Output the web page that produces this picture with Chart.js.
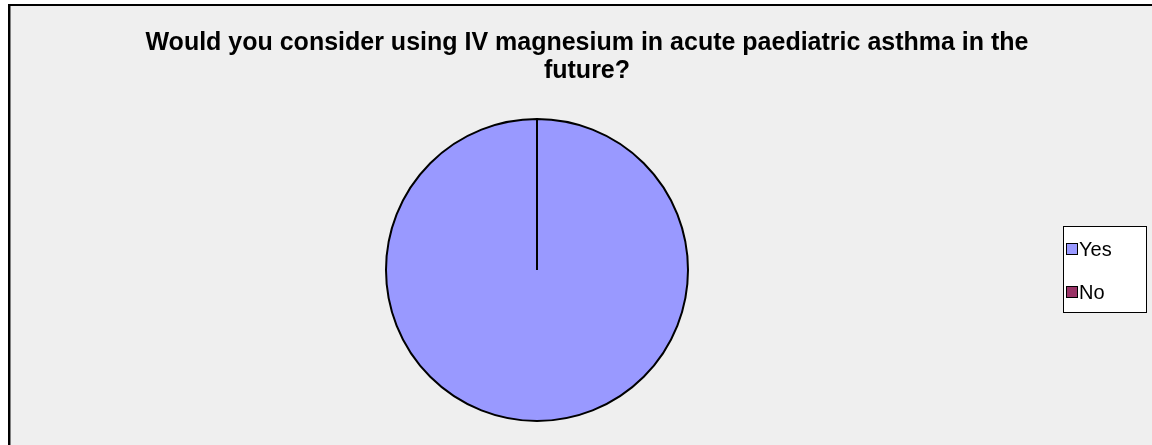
<!DOCTYPE html>
<html>
<head>
<meta charset="utf-8">
<script src="https://cdn.jsdelivr.net/npm/chart.js@4/dist/chart.umd.min.js"></script>
<style>
  html, body { margin: 0; padding: 0; background: #ffffff; }
  #wrap { width: 1152px; height: 445px; }
</style>
</head>
<body>
<div id="wrap"><canvas id="c" width="1152" height="445"></canvas></div>
<script>
const titleLines = ["Would you consider using IV magnesium in acute paediatric asthma in the", "future?"];
const categories = ["Yes", "No"];
const values = [100, 0];
const colors = ["#9999ff", "#993366"];

const framePlugin = {
  id: 'frame',
  beforeDraw(chart) {
    const ctx = chart.ctx;
    ctx.save();
    ctx.fillStyle = '#ffffff';
    ctx.fillRect(0, 0, chart.width, chart.height);
    ctx.fillStyle = '#efefef';
    ctx.fillRect(8, 4, chart.width - 8, chart.height - 4);
    ctx.fillStyle = '#000000';
    ctx.fillRect(8, 4, chart.width - 8, 2);
    ctx.fillRect(8, 4, 2, chart.height - 4);
    ctx.fillStyle = '#808080';
    ctx.fillRect(10, 6, 1, chart.height - 6);
    ctx.restore();
  },
  afterDraw(chart) {
    const ctx = chart.ctx;
    ctx.save();
    // title
    ctx.fillStyle = '#000000';
    ctx.font = 'bold 25px "Liberation Sans", Arial, sans-serif';
    ctx.textAlign = 'center';
    ctx.textBaseline = 'alphabetic';
    ctx.fillText(titleLines[0], 587, 50);
    ctx.fillText(titleLines[1], 587, 78);
    // legend
    ctx.fillStyle = '#ffffff';
    ctx.fillRect(1063, 226, 84, 87);
    ctx.strokeStyle = '#000000';
    ctx.lineWidth = 1;
    ctx.strokeRect(1063.5, 226.5, 83, 86);
    ctx.font = '20px "Liberation Sans", Arial, sans-serif';
    ctx.textAlign = 'left';
    ctx.textBaseline = 'middle';
    const ys = [249, 292];
    categories.forEach((lab, i) => {
      ctx.fillStyle = colors[i];
      ctx.fillRect(1067, ys[i] - 5, 10, 10);
      ctx.strokeStyle = '#000000';
      ctx.strokeRect(1066.5, ys[i] - 5.5, 11, 11);
      ctx.fillStyle = '#000000';
      ctx.fillText(lab, 1079, ys[i] + 1);
    });
    ctx.restore();
  }
};

new Chart(document.getElementById('c'), {
  type: 'pie',
  data: {
    labels: categories,
    datasets: [{
      data: values,
      backgroundColor: colors,
      borderColor: '#000000',
      borderWidth: 2
    }]
  },
  options: {
    responsive: false,
    animation: false,
    radius: 151,
    layout: { padding: { left: 300, right: 378, top: 110, bottom: 15 } },
    plugins: {
      legend: { display: false },
      title: { display: false },
      tooltip: { enabled: false }
    }
  },
  plugins: [framePlugin]
});
</script>
</body>
</html>
